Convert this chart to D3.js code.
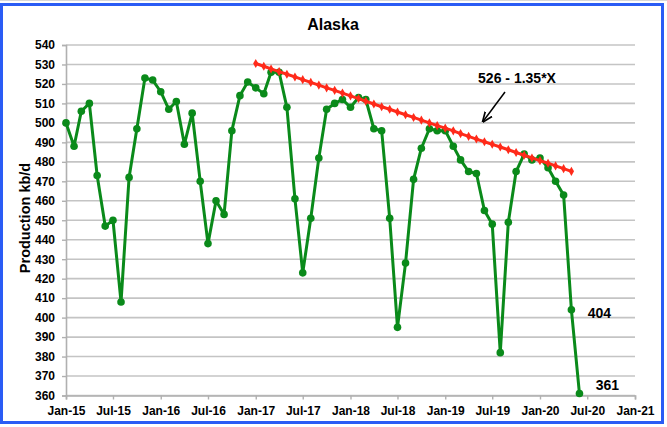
<!DOCTYPE html>
<html><head><meta charset="utf-8">
<script src="https://cdn.jsdelivr.net/npm/d3@7"></script>
<style>
html,body{margin:0;padding:0;background:#fff;}
svg{display:block;font-family:"Liberation Sans",Arial,sans-serif;}
</style></head>
<body>
<svg id="chart" width="667" height="427"></svg>
<script>
// ---- data ----
const startMonth = "2015-01";
const production = [
  500, 488, 506, 510, 473, 447, 450, 408, 472, 497, 523, 522,
  516, 507, 511, 489, 505, 470, 438, 460, 453, 496, 514, 521,
  518, 515, 526, 526, 508, 461, 423, 451, 482, 507, 510, 512,
  508, 513, 512, 497, 496, 451, 395, 428, 471, 487, 497, 496,
  496, 488, 481, 475, 474, 455, 448, 382, 449, 475, 484, 481,
  482, 477, 470, 463, 404, 361
];
const trendStartMonth = "2017-01";
const trendValues = [
  530.5, 529.1, 527.7, 526.3, 525.0, 523.6, 522.2, 520.8, 519.4, 518.0,
  516.7, 515.3, 513.9, 512.5, 511.1, 509.7, 508.3, 507.0, 505.6, 504.2,
  502.8, 501.4, 500.0, 498.6, 497.3, 495.9, 494.5, 493.1, 491.7, 490.3,
  489.0, 487.6, 486.2, 484.8, 483.4, 482.0, 480.6, 479.3, 477.9, 476.5,
  475.1
];
const yTicks = [360,370,380,390,400,410,420,430,440,450,460,470,480,490,500,510,520,530,540];
const xTickLabels = ["Jan-15","Jul-15","Jan-16","Jul-16","Jan-17","Jul-17","Jan-18","Jul-18","Jan-19","Jul-19","Jan-20","Jul-20","Jan-21"];
const titleText = "Alaska";
const yLabel = "Production kb/d";
const trendLabel = "526 - 1.35*X";
const pointLabels = [{month:"2020-05", value:404, text:"404"},{month:"2020-06", value:361, text:"361"}];

// ---- helpers ----
const parseM = d3.utcParse("%Y-%m");
function monthDate(start, i){ return d3.utcMonth.offset(parseM(start), i); }
const prodData = production.map((v,i)=>({date:monthDate(startMonth,i), value:v}));
const trendData = trendValues.map((v,i)=>({date:monthDate(trendStartMonth,i), value:v}));
const xTickDates = xTickLabels.map(s=>d3.utcParse("%b-%y")(s));

const svg = d3.select("#chart");
const L=66, R=635, T=45, B=395.5;
const x = d3.scaleUtc().domain([xTickDates[0], xTickDates[xTickDates.length-1]]).range([L,R]);
const y = d3.scaleLinear().domain([360,540]).range([B,T]);

// background & border
svg.append("rect").attr("x",0).attr("y",0).attr("width",667).attr("height",427).attr("fill","#fff");
svg.append("line").attr("x1",0).attr("x2",667).attr("y1",0.5).attr("y2",0.5).attr("stroke","#d8d8d8");
svg.append("rect").attr("x",1.5).attr("y",4.5).attr("width",661).attr("height",418)
  .attr("fill","#fff").attr("stroke","#2a5cf5").attr("stroke-width",3);

// gridlines
svg.append("g").selectAll("line").data(yTicks).join("line")
  .attr("x1",L).attr("x2",R).attr("y1",d=>y(d)).attr("y2",d=>y(d))
  .attr("stroke","#c4c4c4").attr("stroke-width",1.6);

// y axis
const yAxis = svg.append("g").attr("transform",`translate(${L},0)`)
  .call(d3.axisLeft(y).tickValues(yTicks).tickSize(4).tickPadding(7));
yAxis.select(".domain").attr("stroke","#b0b0b0").attr("stroke-width",1.6);
yAxis.selectAll(".tick line").attr("stroke","#b0b0b0").attr("stroke-width",1.4);
yAxis.selectAll("text").attr("font-size",12).attr("font-weight","bold").attr("fill","#000")
  .attr("font-family","Liberation Sans, Arial, sans-serif");

// x axis
const xAxis = svg.append("g").attr("transform",`translate(0,${B})`)
  .call(d3.axisBottom(x).tickValues(xTickDates).tickFormat(d3.utcFormat("%b-%y")).tickSize(4).tickPadding(7));
xAxis.select(".domain").attr("stroke","#b0b0b0").attr("stroke-width",1.6);
xAxis.selectAll(".tick line").attr("stroke","#b0b0b0").attr("stroke-width",1.4);
xAxis.selectAll("text").attr("font-size",12).attr("font-weight","bold").attr("fill","#000")
  .attr("font-family","Liberation Sans, Arial, sans-serif");

// production line
const line = d3.line().x(d=>x(d.date)).y(d=>y(d.value));
const green = "#0a8a1a";
svg.append("path").datum(prodData).attr("d",line).attr("fill","none")
  .attr("stroke",green).attr("stroke-width",3).attr("stroke-linejoin","round");
svg.append("g").selectAll("circle").data(prodData).join("circle")
  .attr("cx",d=>x(d.date)).attr("cy",d=>y(d.value)).attr("r",3.8).attr("fill",green);

// trend line
const red = "#ff2a1a";
svg.append("path").datum(trendData).attr("d",line).attr("fill","none")
  .attr("stroke",red).attr("stroke-width",3);
svg.append("g").selectAll("path").data(trendData).join("path")
  .attr("d",d3.symbol().type(d3.symbolDiamond).size(24))
  .attr("transform",d=>`translate(${x(d.date)},${y(d.value)})`).attr("fill",red);

// title
svg.append("text").attr("x",333).attr("y",30).attr("text-anchor","middle")
  .attr("font-size",16).attr("font-weight","bold").text(titleText);

// y label
svg.append("text").attr("transform","translate(30,218) rotate(-90)").attr("text-anchor","middle")
  .attr("font-size",14.5).attr("font-weight","bold").text(yLabel);

// trend annotation
svg.append("text").attr("x",517).attr("y",83).attr("text-anchor","middle")
  .attr("font-size",14).attr("font-weight","bold").text(trendLabel);
svg.append("defs").append("marker").attr("id","ah").attr("viewBox","0 0 10 10")
  .attr("refX",9).attr("refY",5).attr("markerWidth",7).attr("markerHeight",7).attr("orient","auto")
  .append("path").attr("d","M0,1 L10,5 L0,9").attr("fill","none").attr("stroke","#000").attr("stroke-width",1.6);
svg.append("line").attr("x1",505).attr("y1",92).attr("x2",483).attr("y2",121.5)
  .attr("stroke","#000").attr("stroke-width",1.5).attr("marker-end","url(#ah)");

// point labels
svg.append("g").selectAll("text").data(pointLabels).join("text")
  .attr("x",d=>x(parseM(d.month))+28).attr("y",d=>y(d.value)+(d.value<370?-4:8))
  .attr("text-anchor","middle").attr("font-size",14).attr("font-weight","bold").text(d=>d.text);
</script>
</body></html>
